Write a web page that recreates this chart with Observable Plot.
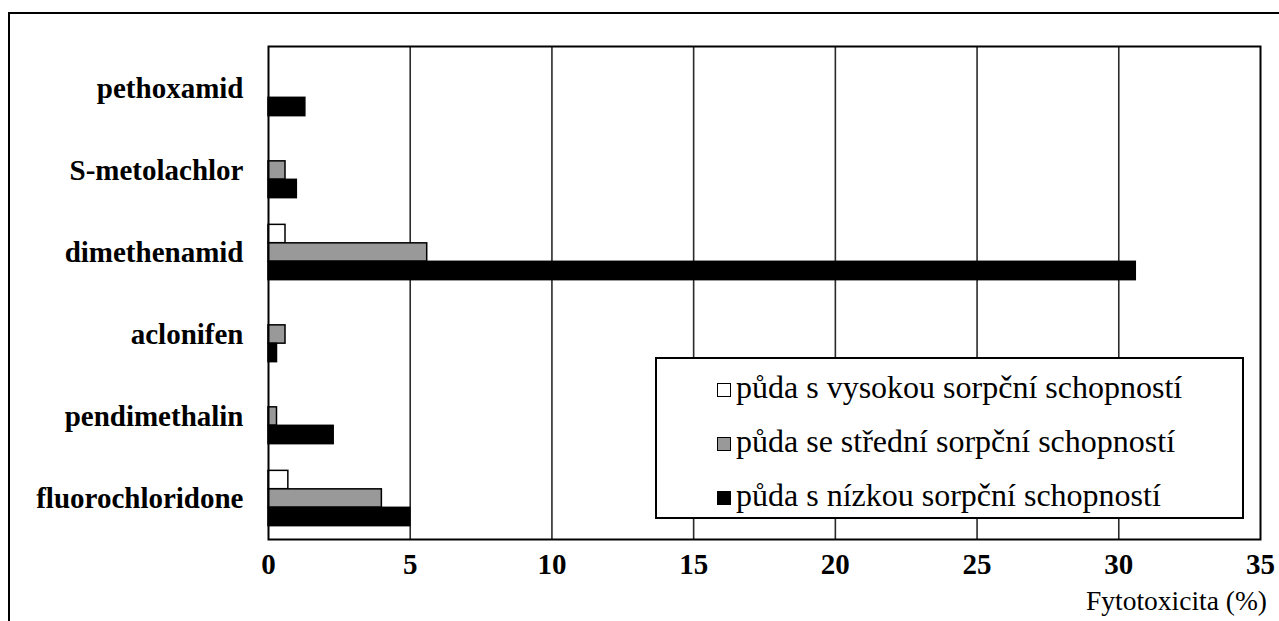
<!DOCTYPE html>
<html>
<head>
<meta charset="utf-8">
<script src="https://cdn.jsdelivr.net/npm/d3@7"></script>
<script src="https://cdn.jsdelivr.net/npm/@observablehq/plot@0.6"></script>
<style>
  html, body { margin: 0; padding: 0; width: 1279px; height: 621px; overflow: hidden; background: #fff; }
  body { position: relative; font-family: "Liberation Serif", "Times New Roman", serif; }
  #chart { position: absolute; left: 0; top: 0; }
  #outer { position: absolute; left: 8px; top: 12px; width: 1300px; height: 700px; border: 2px solid #000; pointer-events: none; }
  #legend { position: absolute; left: 655px; top: 357px; width: 589px; height: 162px; box-sizing: border-box; border: 2px solid #000; background: #fff; }
  .row { position: absolute; left: 60px; height: 34px; line-height: 34px; font-size: 32px; white-space: nowrap; }
  .sw { display: inline-block; width: 12px; height: 12px; border: 1.5px solid #000; margin-right: 5px; vertical-align: 1px; }
  #xtitle { position: absolute; left: 1086px; top: 587px; font-size: 27.5px; line-height: 1; white-space: nowrap; }
</style>
</head>
<body>
<div id="chart"></div>
<div id="legend"></div>
<div id="xtitle"></div>
<div id="outer"></div>
<script>
// ---- data ----
const categories = ["pethoxamid", "S-metolachlor", "dimethenamid", "aclonifen", "pendimethalin", "fluorochloridone"];
const seriesNames = ["půda s vysokou sorpční schopností", "půda se střední sorpční schopností", "půda s nízkou sorpční schopností"];
const highSorption = [0, 0, 0.6, 0, 0, 0.7];
const midSorption = [0, 0.6, 5.6, 0.6, 0.3, 4.0];
const lowSorption = [1.3, 1.0, 30.6, 0.3, 2.3, 5.0];
const xTicks = [0, 5, 10, 15, 20, 25, 30, 35];
const xLabel = "Fytotoxicita (%)";
const seriesFills = ["#ffffff", "#999999", "#000000"];

// ---- layout ----
const W = 1279, H = 621;
const mL = 268, mR = 19, mT = 46, mB = 82;
const bw = (H - mT - mB) / categories.length;
const barH = bw * 0.225;
const groupTop = (bw - 3 * barH) / 2;

const seriesValues = [highSorption, midSorption, lowSorption];
const rows = [];
seriesValues.forEach((vals, s) => {
  vals.forEach((v, i) => rows.push({category: categories[i], series: seriesNames[s], s, value: v}));
});

const barMarks = seriesNames.map((name, s) => {
  const insetTop = groupTop + s * barH;
  const insetBottom = bw - insetTop - barH;
  return Plot.barX(rows.filter(d => d.s === s && d.value > 0), {
    x: "value", y: "category",
    fill: seriesFills[s], stroke: "#000", strokeWidth: 1.5,
    insetTop, insetBottom
  });
});

const chart = Plot.plot({
  width: W, height: H,
  marginLeft: mL, marginRight: mR, marginTop: mT, marginBottom: mB,
  style: {fontFamily: "'Liberation Serif', 'Times New Roman', serif", fontSize: "28px", fontWeight: "bold", background: "transparent", color: "#000"},
  x: {domain: [0, 35], axis: null},
  y: {domain: categories, padding: 0, axis: null},
  marks: [
    Plot.ruleX(xTicks.filter(t => t > 0 && t < 35), {stroke: "#2a2a2a", strokeWidth: 1.6}),
    ...barMarks,
    Plot.frame({stroke: "#000", strokeWidth: 2}),
    Plot.text(categories, {y: d => d, text: d => d, frameAnchor: "left", textAnchor: "end", dx: -25, fontSize: 29, fill: "#000"}),
    Plot.text(xTicks, {x: d => d, text: d => String(d), frameAnchor: "bottom", dy: 34, fontSize: 29, fill: "#000"})
  ]
});
document.getElementById("chart").appendChild(chart);

// legend
const legend = document.getElementById("legend");
seriesNames.forEach((name, s) => {
  const row = document.createElement("div");
  row.className = "row";
  row.style.top = (11 + s * 54) + "px";
  const sw = document.createElement("span");
  sw.className = "sw";
  sw.style.background = seriesFills[s];
  row.appendChild(sw);
  row.appendChild(document.createTextNode(name));
  legend.appendChild(row);
});

document.getElementById("xtitle").textContent = xLabel;
</script>
</body>
</html>
